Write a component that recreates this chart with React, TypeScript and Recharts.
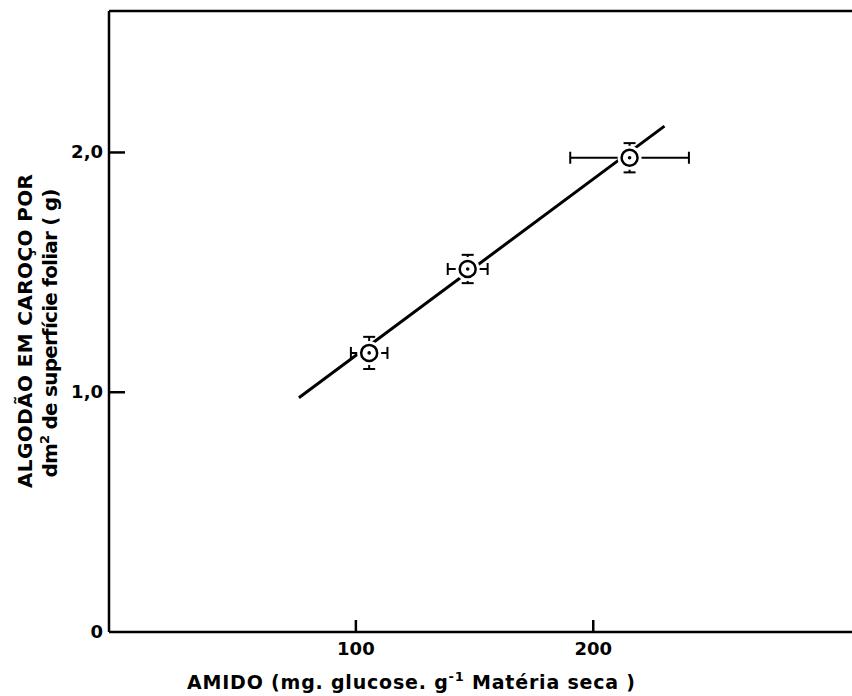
import React from "react"
import { ScatterChart, Scatter, XAxis, YAxis, ErrorBar, ReferenceLine, Label } from "recharts"

// amido (mg glucose / g matéria seca) vs algodão em caroço por dm² de superfície foliar
const amido = [105.6, 147.1, 215.3]
const algodao = [1.164, 1.514, 1.978]
const erroAmido = [7.7, 8.4, 25]
const erroAlgodao = [0.067, 0.059, 0.061]

// regression line endpoints
const retaX = [76, 230]
const retaY = [0.977, 2.11]

const xTicks = [100, 200]
const yTicks = [0, 1, 2]

const X_DOMAIN: [number, number] = [-4, 309]
const Y_DOMAIN: [number, number] = [0, 2.59]

const FONT = "'DejaVu Sans', sans-serif"
const Y_AXIS_W = 109
const X_AXIS_H = 64
const AXIS_LEFT = Y_AXIS_W
const AXIS_BOTTOM = 696 - X_AXIS_H

const points = amido.map((x, i) => ({ x, y: algodao[i], errX: erroAmido[i], errY: erroAlgodao[i] }))
const fitLine = retaX.map((x, i) => ({ x, y: retaY[i] }))

const fmtY = (v: number) => (v === 0 ? "0" : v.toFixed(1).replace(".", ","))

const renderYTick = (props: any) => {
  const { y, payload } = props
  return (
    <text key={`yt-${payload.value}`} x={AXIS_LEFT - 6} y={y + 6} textAnchor="end" fontFamily={FONT} fontWeight="bold" fontSize={18} fill="#000">
      {fmtY(payload.value)}
    </text>
  )
}

const renderXTick = (props: any) => {
  const { x, payload } = props
  return (
    <text key={`xt-${payload.value}`} x={x} y={AXIS_BOTTOM + 23} textAnchor="middle" fontFamily={FONT} fontWeight="bold" fontSize={18} fill="#000">
      {payload.value}
    </text>
  )
}

// inward tick marks drawn at the reference line positions
const InnerYTick = (props: any) => {
  const x0 = Math.min(props.x1, props.x2)
  return <path d={`M${x0},${props.y1}H${x0 + 16}`} stroke="#000" strokeWidth={2.5} fill="none" />
}

const InnerXTick = (props: any) => {
  const y0 = Math.max(props.y1, props.y2)
  return <path d={`M${props.x1},${y0}V${y0 - 12}`} stroke="#000" strokeWidth={2.5} fill="none" />
}

const Marker = ({ cx, cy }: any) => (
  <g>
    <circle cx={cx} cy={cy} r={12} fill="#fff" />
    <circle cx={cx} cy={cy} r={8} fill="#fff" stroke="#000" strokeWidth={2.5} />
    <circle cx={cx} cy={cy} r={1.8} fill="#000" />
  </g>
)

const Empty = () => <g />

const YTitle = () => (
  <g fontFamily={FONT} fontWeight="bold" fill="#000">
    <text transform="translate(32,331) rotate(-90)" textAnchor="middle" fontSize={20} textLength={314} lengthAdjust="spacing">
      ALGODÃO EM CAROÇO POR
    </text>
    <text transform="translate(57,333) rotate(-90)" textAnchor="middle" fontSize={20} textLength={289} lengthAdjust="spacing">
      dm<tspan dy={-8} fontSize={13}>2</tspan><tspan dy={8}> de superfície foliar ( g)</tspan>
    </text>
  </g>
)

const XTitle = () => (
  <text x={187} y={689} fontFamily={FONT} fontWeight="bold" fontSize={19} fill="#000" textLength={448} lengthAdjust="spacing">
    AMIDO  (mg. glucose. g<tspan dy={-8} fontSize={13}>-1</tspan><tspan dy={8}> Matéria seca )</tspan>
  </text>
)

export default function App() {
  return (
    <div style={{ position: "absolute", left: 0, top: 0, background: "#fff" }}>
      <ScatterChart width={852} height={696} margin={{ top: 11, right: 0, bottom: 0, left: 0 }}>
        <XAxis
          type="number"
          dataKey="x"
          domain={X_DOMAIN}
          ticks={xTicks}
          height={X_AXIS_H}
          tickLine={false}
          tick={renderXTick}
          axisLine={{ stroke: "#000", strokeWidth: 2.5 }}
          allowDataOverflow
        >
          <Label content={<XTitle />} />
        </XAxis>
        <YAxis
          type="number"
          dataKey="y"
          domain={Y_DOMAIN}
          ticks={yTicks}
          width={Y_AXIS_W}
          tickLine={false}
          tick={renderYTick}
          axisLine={{ stroke: "#000", strokeWidth: 2.5 }}
          allowDataOverflow
        >
          <Label content={<YTitle />} />
        </YAxis>
        <ReferenceLine y={Y_DOMAIN[1]} stroke="#000" strokeWidth={2.5} />
        {yTicks.filter((t) => t > 0).map((t) => (
          <ReferenceLine key={`iy-${t}`} y={t} shape={InnerYTick} />
        ))}
        {xTicks.map((t) => (
          <ReferenceLine key={`ix-${t}`} x={t} shape={InnerXTick} />
        ))}
        <Scatter data={fitLine} line={{ stroke: "#000", strokeWidth: 3 }} shape={<Empty />} isAnimationActive={false} />
        <Scatter data={points} shape={<Empty />} isAnimationActive={false}>
          <ErrorBar dataKey="errX" direction="x" width={6} stroke="#000" strokeWidth={2} />
          <ErrorBar dataKey="errY" direction="y" width={6} stroke="#000" strokeWidth={2} />
        </Scatter>
        <Scatter data={points} shape={<Marker />} isAnimationActive={false} />
      </ScatterChart>
    </div>
  )
}
